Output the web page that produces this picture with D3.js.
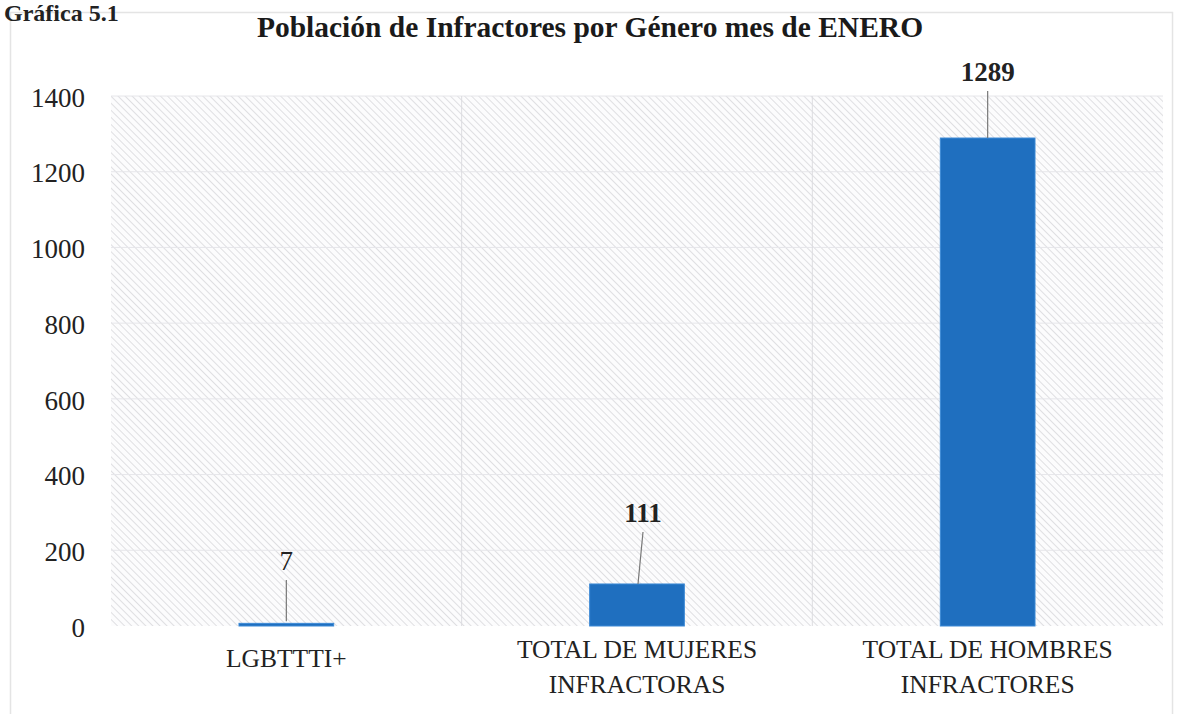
<!DOCTYPE html>
<html><head><meta charset="utf-8">
<script src="https://cdn.jsdelivr.net/npm/d3@7"></script>
<style>body{margin:0;background:#fff}svg{display:block}</style>
</head><body>
<svg id="c" width="1180" height="714"></svg>
<script>
const categories = [["LGBTTTI+"], ["TOTAL DE MUJERES", "INFRACTORAS"], ["TOTAL DE HOMBRES", "INFRACTORES"]];
const values = [7, 111, 1289];
const yTicks = [0, 200, 400, 600, 800, 1000, 1200, 1400];
const title = "Población de Infractores por Género mes de ENERO";
const header = "Gráfica 5.1";

const svg = d3.select("#c");
const serif = "'Liberation Serif','Times New Roman',serif";
const m = {left: 111, right: 1163, top: 96, bottom: 626};

const defs = svg.append("defs");
const pat = defs.append("pattern").attr("id", "hatch").attr("patternUnits", "userSpaceOnUse")
  .attr("width", 5).attr("height", 5).attr("patternTransform", "rotate(-45)");
pat.append("rect").attr("width", 5).attr("height", 5).attr("fill", "#fcfcfd");
pat.append("line").attr("x1", 0).attr("y1", 0).attr("x2", 0).attr("y2", 5)
  .attr("stroke", "#cfcfd4").attr("stroke-width", 1.3);

// frame
svg.append("rect").attr("x", 10.5).attr("y", 12.5).attr("width", 1162).attr("height", 720)
  .attr("fill", "none").attr("stroke", "#e4e4e4").attr("stroke-width", 1.5);

svg.append("text").attr("x", 4).attr("y", 21).attr("font-family", serif).attr("font-weight", "bold")
  .attr("font-size", 24).attr("fill", "#222").text(header);

const x = d3.scaleBand().domain(d3.range(categories.length)).range([m.left, m.right]).paddingInner(0).paddingOuter(0);
const y = d3.scaleLinear().domain([0, 1400]).range([m.bottom, m.top]);
const bw = x.bandwidth() * 0.27;

svg.append("rect").attr("x", m.left).attr("y", m.top).attr("width", m.right - m.left)
  .attr("height", m.bottom - m.top).attr("fill", "url(#hatch)");

// gridlines
svg.append("g").selectAll("line").data(yTicks.slice(1)).join("line")
  .attr("x1", m.left).attr("x2", m.right).attr("y1", d => y(d)).attr("y2", d => y(d))
  .attr("stroke", "#e6e6ea").attr("stroke-width", 1);
svg.append("g").selectAll("line").data(d3.range(1, categories.length)).join("line")
  .attr("x1", d => x(d)).attr("x2", d => x(d)).attr("y1", m.top).attr("y2", m.bottom)
  .attr("stroke", "#dcdce0").attr("stroke-width", 1);

// y axis
const ya = svg.append("g").attr("transform", `translate(${m.left - 26},0)`)
  .call(d3.axisLeft(y).tickValues(yTicks).tickFormat(d3.format("d")).tickSize(0).tickPadding(0));
ya.select(".domain").remove();
ya.selectAll("text").attr("font-family", serif).attr("font-size", 27).attr("fill", "#222").attr("dy", "0.38em");

// bars
svg.append("g").selectAll("rect").data(values).join("rect")
  .attr("x", (d, i) => x(i) + x.bandwidth() / 2 - bw / 2)
  .attr("width", bw)
  .attr("y", d => y(d))
  .attr("height", d => Math.max(2, y(0) - y(d)))
  .attr("fill", "#1f6fbf").attr("stroke", "#3c8ad6").attr("stroke-width", 1);

// data labels with leader lines
const labelBase = [y(0) - 56, y(111) - 62, y(1289) - 57];
const labelDx = [0, 6, 0];
const bold = [false, true, true];
const lg = svg.append("g");
values.forEach((v, i) => {
  const cx = x(i) + x.bandwidth() / 2;
  lg.append("line").attr("x1", cx + labelDx[i]).attr("y1", labelBase[i] + 10)
    .attr("x2", cx + (i === 1 ? 1 : 0)).attr("y2", y(v) - (i === 0 ? 2 : 0))
    .attr("stroke", "#777").attr("stroke-width", 1.2);
  lg.append("text").attr("x", cx + labelDx[i]).attr("y", labelBase[i]).attr("text-anchor", "middle")
    .attr("font-family", serif).attr("font-size", 27).attr("font-weight", bold[i] ? "bold" : "normal")
    .attr("fill", "#222").text(v);
});

// category labels
const cg = svg.append("g");
categories.forEach((lines, i) => {
  const cx = x(i) + x.bandwidth() / 2;
  const t = cg.append("text").attr("text-anchor", "middle").attr("font-family", serif)
    .attr("font-size", 25.5).attr("fill", "#222");
  lines.forEach((l, j) => {
    t.append("tspan").attr("x", cx).attr("y", (lines.length === 1 ? 667 : 658) + j * 35).text(l);
  });
});

// title
svg.append("text").attr("x", 590).attr("y", 37).attr("text-anchor", "middle")
  .attr("font-family", serif).attr("font-weight", "bold").attr("font-size", 29.5)
  .attr("fill", "#1a1a1a").text(title);
</script>
</body></html>
